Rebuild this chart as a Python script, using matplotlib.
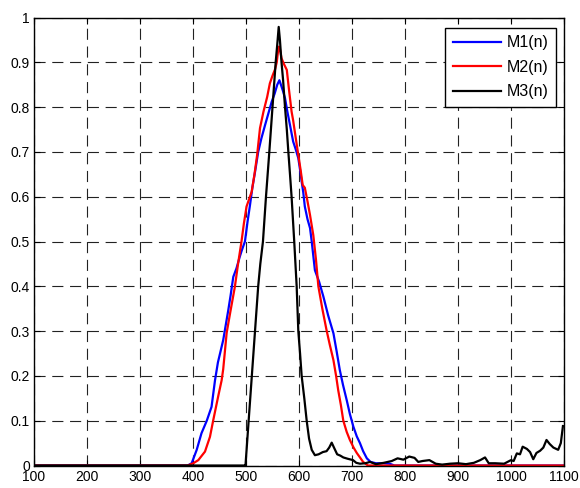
import matplotlib
matplotlib.use("Agg")
import matplotlib.pyplot as plt

m1_x = [100, 390, 397.5, 407, 416, 426, 435, 441.5, 447, 452, 457, 462, 466.6, 471, 476, 482, 488, 492, 498, 503, 507.5, 512, 517, 523, 529, 536, 542, 548.5, 554, 559, 563, 567, 570, 573.6, 578, 583, 589, 594, 598.7, 602, 605, 608, 611, 616, 620.8, 624, 630, 638, 646, 655, 665, 671, 677, 683, 690, 696, 702.5, 709, 715, 721, 728, 735, 745, 760, 771, 780, 1100]
m1_y = [0, 0, 0.005, 0.035, 0.072, 0.1, 0.131, 0.19, 0.23, 0.255, 0.28, 0.315, 0.347, 0.38, 0.421, 0.44, 0.465, 0.48, 0.5, 0.545, 0.581, 0.62, 0.655, 0.7, 0.73, 0.76, 0.785, 0.812, 0.83, 0.85, 0.86, 0.846, 0.835, 0.82, 0.79, 0.76, 0.723, 0.705, 0.686, 0.66, 0.634, 0.61, 0.578, 0.55, 0.53, 0.5, 0.436, 0.41, 0.377, 0.335, 0.295, 0.255, 0.213, 0.18, 0.146, 0.115, 0.087, 0.065, 0.05, 0.032, 0.016, 0.008, 0.005, 0.005, 0.004, 0, 0]

m2_x = [100, 390, 400.6, 410, 422.6, 432, 438, 448, 454, 457, 463.5, 470, 479, 485, 491.5, 496, 501, 506, 510.7, 516, 521, 526.4, 533, 540, 545, 550, 555, 558, 560, 562, 564, 567, 572, 577, 581, 586, 589, 594, 598.7, 603, 607, 611, 616, 620.8, 627, 632, 636.5, 644, 652, 658, 665, 670, 674, 679, 683.6, 690, 696, 703, 709, 715, 721, 730, 1100]
m2_y = [0, 0, 0.005, 0.012, 0.031, 0.064, 0.1, 0.157, 0.19, 0.215, 0.296, 0.34, 0.399, 0.45, 0.5, 0.54, 0.578, 0.595, 0.611, 0.65, 0.693, 0.753, 0.79, 0.823, 0.853, 0.87, 0.885, 0.9, 0.92, 0.935, 0.93, 0.909, 0.895, 0.883, 0.84, 0.79, 0.77, 0.73, 0.693, 0.66, 0.626, 0.62, 0.59, 0.559, 0.514, 0.46, 0.4, 0.35, 0.302, 0.27, 0.235, 0.2, 0.168, 0.135, 0.1, 0.075, 0.057, 0.04, 0.028, 0.018, 0.008, 0, 0]

m3_x = [100, 497, 499, 505, 511, 517, 523, 527, 532, 537.7, 544, 550, 556, 559, 561.7, 564, 567, 570, 573.6, 577, 579.9, 583, 586, 591, 595.6, 598.7, 602, 605, 610, 614.5, 619, 624, 630, 637, 645, 652, 657, 661.7, 666, 672, 678, 683.6, 692, 702, 708, 715, 725, 734, 745, 760, 775, 786, 797, 808, 818, 825, 833, 846, 858, 870, 885, 900, 915, 930, 942, 951, 958, 970, 987, 1000, 1005, 1011, 1017, 1022, 1030, 1036, 1042, 1048, 1055, 1061, 1067, 1073, 1080, 1089, 1094, 1098]
m3_y = [0, 0, 0, 0.1, 0.2, 0.3, 0.4, 0.45, 0.5, 0.6, 0.7, 0.8, 0.9, 0.94, 0.979, 0.95, 0.9, 0.86, 0.8, 0.75, 0.7, 0.65, 0.6, 0.5, 0.4, 0.3, 0.25, 0.2, 0.15, 0.1, 0.06, 0.035, 0.023, 0.025, 0.03, 0.032, 0.04, 0.051, 0.04, 0.025, 0.022, 0.018, 0.015, 0.012, 0.006, 0.004, 0.005, 0.008, 0.003, 0.006, 0.01, 0.016, 0.013, 0.02, 0.017, 0.008, 0.01, 0.012, 0.004, 0.002, 0.004, 0.005, 0.003, 0.006, 0.012, 0.018, 0.005, 0.005, 0.004, 0.012, 0.01, 0.027, 0.025, 0.042, 0.037, 0.03, 0.014, 0.028, 0.033, 0.04, 0.057, 0.048, 0.04, 0.035, 0.05, 0.088]

labels = ["M1(n)", "M2(n)", "M3(n)"]
x_ticks = list(range(100, 1101, 100))
y_ticks = [0, 0.1, 0.2, 0.3, 0.4, 0.5, 0.6, 0.7, 0.8, 0.9, 1]
y_ticklabels = ["0", "0.1", "0.2", "0.3", "0.4", "0.5", "0.6", "0.7", "0.8", "0.9", "1"]

plt.rcParams['font.family'] = ['Liberation Sans', 'DejaVu Sans']

fig = plt.figure(figsize=(5.8, 4.88), dpi=100)
ax = fig.add_axes([34/580, 1 - 465.5/488, (564-34)/580, (465.5-17.5)/488])

ax.plot(m1_x, m1_y, color="#0000ff", lw=1.6, label=labels[0])
ax.plot(m2_x, m2_y, color="#ff0000", lw=1.6, label=labels[1])
ax.plot(m3_x, m3_y, color="#000000", lw=1.6, label=labels[2])

ax.set_xlim(100, 1100)
ax.set_ylim(0, 1)
ax.set_xticks(x_ticks)
ax.set_xticklabels([str(v) for v in x_ticks])
ax.set_yticks(y_ticks)
ax.set_yticklabels(y_ticklabels)
ax.grid(True, color="#222222", linestyle=(0, (10, 6)), linewidth=0.8)
ax.tick_params(direction="in", top=True, right=True, length=4, labelsize=10, pad=3, width=0.8)
for s in ax.spines.values():
    s.set_linewidth(1.0)

leg = ax.legend(loc="upper right", bbox_to_anchor=(556/580, 1 - 28/488), bbox_transform=fig.transFigure,
                fontsize=11.5, frameon=True, fancybox=False, handlelength=3.0, borderpad=0.45,
                labelspacing=0.6, handletextpad=0.4, borderaxespad=0)
leg.get_frame().set_edgecolor("black")
leg.get_frame().set_linewidth(1.0)
leg.get_frame().set_alpha(1)

fig.savefig("out.png", dpi=100, facecolor="white")
